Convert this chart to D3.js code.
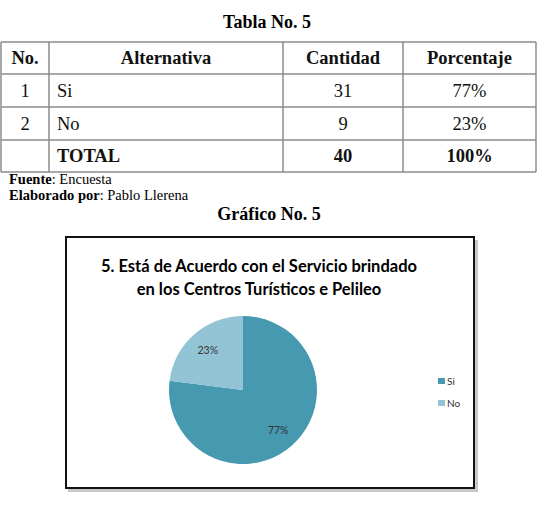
<!DOCTYPE html>
<html>
<head>
<meta charset="utf-8">
<script src="https://cdn.jsdelivr.net/npm/d3@7"></script>
<style>
body { margin: 0; background: #fff; }
svg { display: block; }
</style>
</head>
<body>
<script>
// datos de la encuesta
var categorias = ["Si", "No"];
var cantidad = [31, 9];
var porcentaje = [77, 23];
var total = 40;
var colores = ["#4799AF", "#93C4D5"];
var encabezados = ["No.", "Alternativa", "Cantidad", "Porcentaje"];

var W = 538, H = 510;
var svg = d3.select("body").append("svg")
    .attr("width", W)
    .attr("height", H);

var serif = "'Liberation Serif', 'Times New Roman', serif";

// titulo de la tabla
svg.append("text")
    .attr("x", 267).attr("y", 28)
    .attr("text-anchor", "middle")
    .style("font-family", serif)
    .style("font-weight", "bold")
    .style("font-size", "18px")
    .text("Tabla No. 5");

// tabla
var colX = [1, 49, 283, 403, 536];
var rowY = [42, 74, 107, 140, 172];

var filas = [encabezados];
categorias.forEach(function(c, i) {
    filas.push([String(i + 1), c, String(cantidad[i]), porcentaje[i] + "%"]);
});
filas.push(["", "TOTAL", String(total), d3.sum(porcentaje) + "%"]);

var tabla = svg.append("g");

// lineas horizontales
tabla.selectAll("line.h")
    .data(rowY)
    .enter()
    .append("line")
    .attr("x1", colX[0]).attr("x2", colX[4])
    .attr("y1", function(d) { return d; })
    .attr("y2", function(d) { return d; })
    .attr("stroke", "#8c8c8c")
    .attr("stroke-width", 1.5);

// lineas verticales
tabla.selectAll("line.v")
    .data(colX)
    .enter()
    .append("line")
    .attr("x1", function(d) { return d; })
    .attr("x2", function(d) { return d; })
    .attr("y1", rowY[0]).attr("y2", rowY[4])
    .attr("stroke", "#8c8c8c")
    .attr("stroke-width", 1.5);

filas.forEach(function(fila, r) {
    var bold = (r === 0 || r === filas.length - 1);
    var cy = (rowY[r] + rowY[r + 1]) / 2 + 6;
    fila.forEach(function(txt, c) {
        var left = (c === 1 && r > 0);
        svg.append("text")
            .attr("x", left ? colX[1] + 8 : (colX[c] + colX[c + 1]) / 2)
            .attr("y", cy)
            .attr("text-anchor", left ? "start" : "middle")
            .style("font-family", serif)
            .style("font-weight", bold ? "bold" : "normal")
            .style("font-size", "18.5px")
            .style("fill", "#111")
            .text(txt);
    });
});

// fuente
var f1 = svg.append("text").attr("x", 9).attr("y", 184)
    .style("font-family", serif).style("font-size", "14.5px");
f1.append("tspan").style("font-weight", "bold").text("Fuente");
f1.append("tspan").text(": Encuesta");
var f2 = svg.append("text").attr("x", 9).attr("y", 200)
    .style("font-family", serif).style("font-size", "14.5px");
f2.append("tspan").style("font-weight", "bold").text("Elaborado por");
f2.append("tspan").text(": Pablo Llerena");

svg.append("text")
    .attr("x", 269).attr("y", 220)
    .attr("text-anchor", "middle")
    .style("font-family", serif)
    .style("font-weight", "bold")
    .style("font-size", "18px")
    .text("Gráfico No. 5");

// cuadro del grafico con sombra
svg.append("rect")
    .attr("x", 68).attr("y", 240)
    .attr("width", 410).attr("height", 252)
    .attr("fill", "#c8c8c8");
svg.append("rect")
    .attr("x", 66).attr("y", 237)
    .attr("width", 408).attr("height", 251)
    .attr("fill", "#fff")
    .attr("stroke", "#111")
    .attr("stroke-width", 2);

var cal = "Lato, 'Open Sans', sans-serif";
svg.append("text")
    .attr("x", 259).attr("y", 272)
    .attr("text-anchor", "middle")
    .style("font-family", cal).style("font-weight", "bold").style("font-size", "16.5px")
    .text("5. Está de Acuerdo con el Servicio brindado");
svg.append("text")
    .attr("x", 259).attr("y", 295)
    .attr("text-anchor", "middle")
    .style("font-family", cal).style("font-weight", "bold").style("font-size", "16.5px")
    .text("en los Centros Turísticos e Pelileo");

// pastel
var cx = 243, cy = 390, r = 74;
var pie = d3.pie().sort(null).value(function(d) { return d; });
var arc = d3.arc().innerRadius(0).outerRadius(r);
var arcs = pie(porcentaje);

var gp = svg.append("g").attr("transform", "translate(" + cx + "," + cy + ")");
gp.selectAll("path")
    .data(arcs)
    .enter()
    .append("path")
    .attr("d", arc)
    .attr("fill", function(d, i) { return colores[i]; });

var lblArc = d3.arc().innerRadius(r * 0.72).outerRadius(r * 0.72);
gp.selectAll("text")
    .data(arcs)
    .enter()
    .append("text")
    .attr("transform", function(d) {
        var p = lblArc.centroid(d);
        return "translate(" + p[0] + "," + (p[1] + 4) + ")";
    })
    .attr("text-anchor", "middle")
    .style("font-family", cal)
    .style("font-size", "10.5px")
    .style("fill", "#333")
    .text(function(d, i) { return porcentaje[i] + "%"; });

// leyenda
var leg = svg.append("g").attr("transform", "translate(438,378)");
var li = leg.selectAll("g")
    .data(categorias)
    .enter()
    .append("g")
    .attr("transform", function(d, i) { return "translate(0," + i * 22 + ")"; });
li.append("rect")
    .attr("width", 7).attr("height", 6)
    .attr("fill", function(d, i) { return colores[i]; });
li.append("text")
    .attr("x", 9).attr("y", 7)
    .style("font-family", cal)
    .style("font-size", "10px")
    .style("fill", "#333")
    .text(function(d) { return d; });
</script>
</body>
</html>
